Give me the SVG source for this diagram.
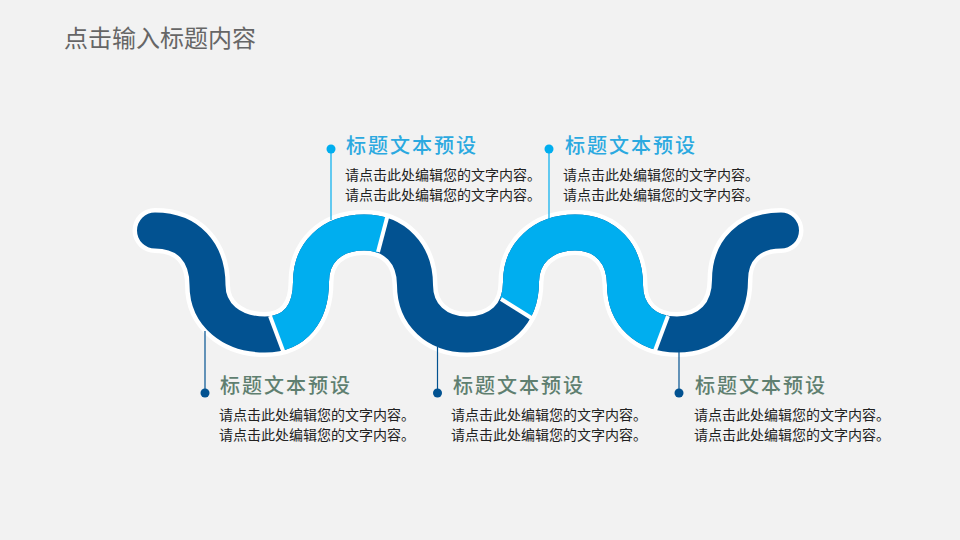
<svg xmlns="http://www.w3.org/2000/svg" width="960" height="540" viewBox="0 0 960 540">
<style>
text{font-family:"Noto Sans CJK SC","Noto Sans",sans-serif}
.page{font-size:24px;fill:#666}
.tl{font-size:20px;font-weight:500;letter-spacing:2px;fill:#2BA9E0}
.td{font-size:20px;font-weight:500;letter-spacing:2px;fill:#5F7F70}
.b{font-size:14px;fill:#222}
.dk{fill:none;stroke:#025291;stroke-width:36;stroke-linecap:round}
.lt{fill:none;stroke:#00AEEF;stroke-width:36}
.halo{stroke:#FFF;stroke-width:45;stroke-linecap:round;fill:none}
.cut{stroke:#FFF;stroke-width:4}
.ld{stroke:#025291;stroke-width:1.2}.ll{stroke:#00AEEF;stroke-width:1.2}
.fd{fill:#025291}.fl{fill:#00AEEF}
</style>
<defs>
<path id="c" d="M155 230.5C188 230.5 207.500 252 207.500 285C207.500 315 232 334.500 265 334.500C295 334.500 311 313 311 282C311 253 331 232.500 364 232.500C395 232.500 415 254 415 285C415 315 437 334.500 467 334.500C499 334.500 521 315 521 282C521 253 543 232.500 575 232.500C606 232.500 625 254 625 285C625 315 646 334.500 677 334.500C710 334.500 730 312 730 280C730 250 750 230.500 781 230.500"/>
<clipPath id="a2"><polygon points="265,303 290,370 345,370 370,282 392,200 265,200"/></clipPath>
<clipPath id="a4"><polygon points="490,292 490,200 672,200 672,305 650,364 590,364 540,323"/></clipPath>
</defs>
<rect width="960" height="540" fill="#F2F2F2"/>
<text class="page" x="64" y="47">点击输入标题内容</text>
<g id="wave">
<use href="#c" class="halo"/>
<use href="#c" class="dk"/>
<use href="#c" class="lt" clip-path="url(#a2)"/>
<use href="#c" class="lt" clip-path="url(#a4)"/>
<line class="cut" x1="270" y1="316" x2="283.500" y2="352"/>
<line class="cut" x1="387.500" y1="216" x2="378" y2="252"/>
<line class="cut" x1="501" y1="299" x2="533" y2="319"/>
<line class="cut" x1="668" y1="316" x2="654.500" y2="352"/>
</g>
<g id="connectors">
<line class="ll" x1="331" y1="149" x2="331" y2="220"/><circle class="fl" cx="331" cy="149" r="4.500"/>
<line class="ll" x1="549" y1="149" x2="549" y2="220"/><circle class="fl" cx="549" cy="149" r="4.500"/>
<line class="ld" x1="205" y1="331" x2="205" y2="393"/><circle class="fd" cx="205" cy="393" r="4.500"/>
<line class="ld" x1="437.500" y1="347" x2="437.500" y2="393"/><circle class="fd" cx="437.500" cy="393" r="4.500"/>
<line class="ld" x1="679" y1="349" x2="679" y2="393"/><circle class="fd" cx="679" cy="393" r="4.500"/>
</g>
<g id="n1"><text class="td" x="220" y="393">标题文本预设</text><text class="b" x="219" y="419.500">请点击此处编辑您的文字内容。</text><text class="b" x="219" y="439.500">请点击此处编辑您的文字内容。</text></g>
<g id="n2"><text class="tl" x="346" y="153">标题文本预设</text><text class="b" x="345" y="179.500">请点击此处编辑您的文字内容。</text><text class="b" x="345" y="199.500">请点击此处编辑您的文字内容。</text></g>
<g id="n3"><text class="td" x="453" y="393">标题文本预设</text><text class="b" x="451" y="419.500">请点击此处编辑您的文字内容。</text><text class="b" x="451" y="439.500">请点击此处编辑您的文字内容。</text></g>
<g id="n4"><text class="tl" x="565" y="153">标题文本预设</text><text class="b" x="563" y="179.500">请点击此处编辑您的文字内容。</text><text class="b" x="563" y="199.500">请点击此处编辑您的文字内容。</text></g>
<g id="n5"><text class="td" x="695" y="393">标题文本预设</text><text class="b" x="694" y="419.500">请点击此处编辑您的文字内容。</text><text class="b" x="694" y="439.500">请点击此处编辑您的文字内容。</text></g>
</svg>
